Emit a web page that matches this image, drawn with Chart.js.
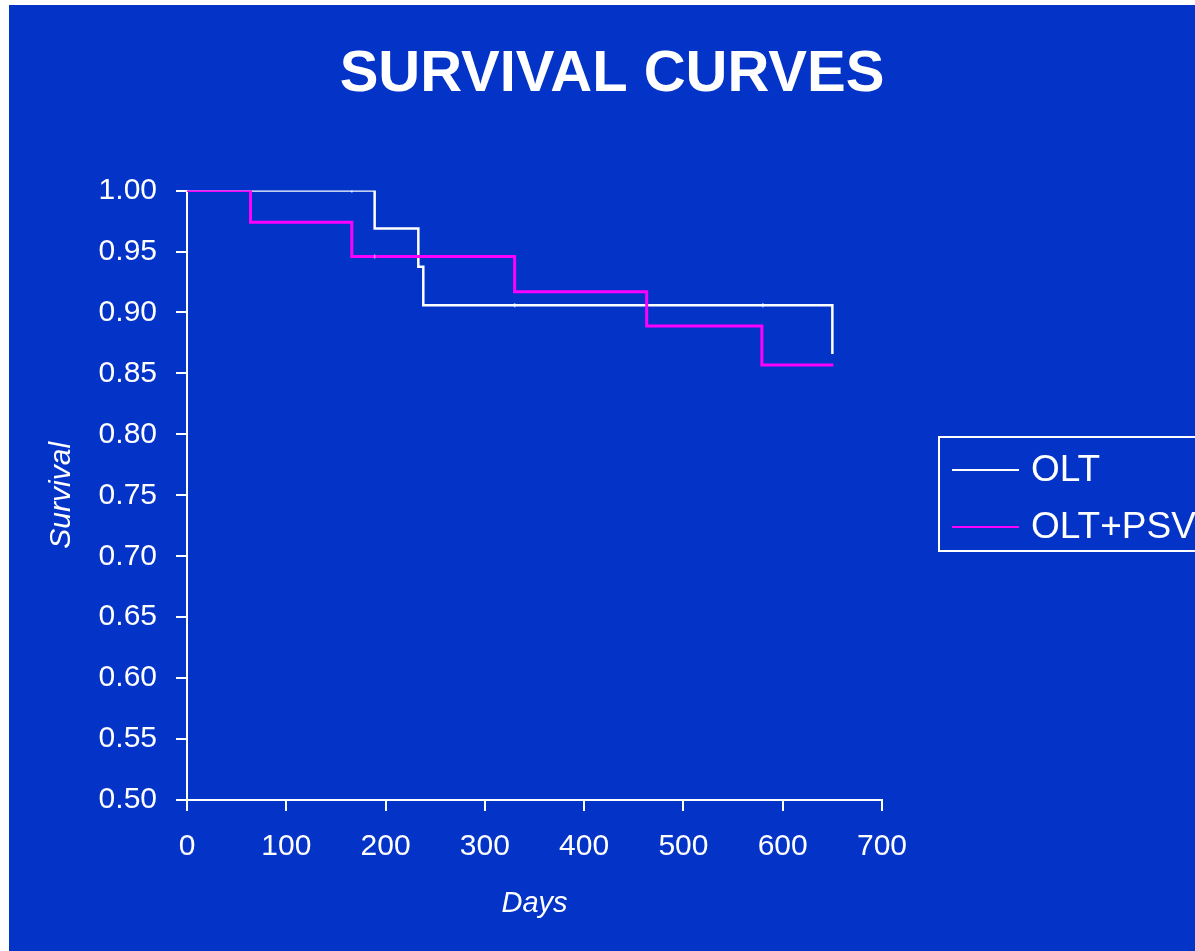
<!DOCTYPE html>
<html>
<head>
<meta charset="utf-8">
<script src="https://cdn.jsdelivr.net/npm/chart.js@4/dist/chart.umd.min.js"></script>
<style>
  html, body { margin: 0; padding: 0; background: #ffffff; width: 1195px; height: 951px; overflow: hidden; }
  #wrap { position: absolute; left: 9px; top: 5px; width: 1186px; height: 946px; background: #0433C7; }
  canvas { display: block; }
</style>
</head>
<body>
<div id="wrap"><canvas id="c" width="1186" height="946"></canvas></div>
<script>
// ---- data ----
const chartTitle = 'SURVIVAL CURVES';
const xAxisTitle = 'Days';
const yAxisTitle = 'Survival';
const seriesNames = ['OLT', 'OLT+PSV'];

// Kaplan-Meier steps: value changes at each day listed
const oltDays = [0, 189, 233, 238, 650];
const oltSurvival = [1.00, 0.969, 0.9375, 0.906, 0.866];
const psvDays = [0, 64, 166, 330, 463, 579, 651];
const psvSurvival = [1.00, 0.974, 0.946, 0.917, 0.889, 0.857, 0.857];

// censored observations
const oltCensorDays = [166, 330, 580];
const oltCensorSurvival = [1.00, 0.906, 0.906];
const psvCensorDays = [189];
const psvCensorSurvival = [0.946];

const xTicks = [0, 100, 200, 300, 400, 500, 600, 700];
const yTicks = [0.50, 0.55, 0.60, 0.65, 0.70, 0.75, 0.80, 0.85, 0.90, 0.95, 1.00];

const WHITE = '#ffffff';
const MAGENTA = '#ff00ff';
const FONT = "'Liberation Sans', Arial, sans-serif";

const toPts = (xs, ys) => xs.map((x, i) => ({ x: x, y: ys[i] }));

// centre the title over the whole slide, not only over the plot column
const titleSpanPlugin = {
  id: 'titleSpan',
  afterLayout(chart) {
    const t = chart.titleBlock;
    if (t) { t.left = 20; t.right = chart.width; t.width = chart.width - 20; }
  }
};

const legendPlugin = {
  id: 'boxLegend',
  afterDraw(chart) {
    const ctx = chart.ctx;
    const items = chart.data.datasets.filter(d => !d.isCensor);
    ctx.save();
    ctx.strokeStyle = WHITE;
    ctx.lineWidth = 2;
    ctx.strokeRect(930, 432, 320, 114);
    ctx.font = '37px ' + FONT;
    ctx.textBaseline = 'middle';
    ctx.textAlign = 'left';
    items.forEach((d, i) => {
      const y = 465 + i * 57;
      ctx.strokeStyle = d.borderColor;
      ctx.lineWidth = 2;
      ctx.beginPath();
      ctx.moveTo(943, y);
      ctx.lineTo(1010, y);
      ctx.stroke();
      ctx.fillStyle = WHITE;
      ctx.fillText(d.label, 1022, y + 1);
    });
    ctx.restore();
  }
};

new Chart(document.getElementById('c'), {
  type: 'scatter',
  data: {
    datasets: [
      {
        label: seriesNames[0],
        data: toPts(oltDays, oltSurvival),
        showLine: true,
        stepped: 'before',
        borderColor: WHITE,
        backgroundColor: WHITE,
        borderWidth: 2.5,
        pointRadius: 0,
        order: 2
      },
      {
        label: seriesNames[1],
        data: toPts(psvDays, psvSurvival),
        showLine: true,
        stepped: 'before',
        borderColor: MAGENTA,
        backgroundColor: MAGENTA,
        borderWidth: 3,
        pointRadius: 0,
        order: 1
      },
      {
        label: seriesNames[0] + ' censored',
        isCensor: true,
        data: toPts(oltCensorDays, oltCensorSurvival),
        showLine: false,
        pointStyle: 'line',
        rotation: 90,
        pointRadius: 2,
        borderWidth: 1.5,
        borderColor: 'rgba(220,225,245,0.9)',
        order: 3
      },
      {
        label: seriesNames[1] + ' censored',
        isCensor: true,
        data: toPts(psvCensorDays, psvCensorSurvival),
        showLine: false,
        pointStyle: 'line',
        rotation: 90,
        pointRadius: 2,
        borderWidth: 1.5,
        borderColor: 'rgba(255,150,255,0.9)',
        order: 0
      }
    ]
  },
  options: {
    responsive: false,
    animation: false,
    layout: { padding: { top: 0, left: 0, right: 313, bottom: 0 } },
    plugins: {
      legend: { display: false },
      tooltip: { enabled: false },
      title: {
        display: true,
        text: chartTitle,
        color: WHITE,
        font: { family: FONT, size: 58, weight: 'bold' },
        padding: { top: 35, bottom: 81 }
      }
    },
    scales: {
      x: {
        type: 'linear',
        min: 0,
        max: 700,
        afterFit(s) { s.height = 151; },
        afterBuildTicks(s) { s.ticks = xTicks.map(v => ({ value: v })); },
        ticks: {
          color: WHITE,
          font: { family: FONT, size: 30 },
          padding: 18,
          maxRotation: 0,
          callback: v => String(v)
        },
        grid: { drawOnChartArea: false, drawTicks: true, tickLength: 11, color: WHITE, lineWidth: 2 },
        border: { display: true, color: WHITE, width: 2 },
        title: {
          display: true,
          text: xAxisTitle,
          color: WHITE,
          font: { family: FONT, size: 29, style: 'italic' },
          padding: { top: 0, bottom: 30 }
        }
      },
      y: {
        type: 'linear',
        min: 0.5,
        max: 1.0,
        afterFit(s) { s.width = 178; },
        afterBuildTicks(s) { s.ticks = yTicks.map(v => ({ value: v })); },
        ticks: {
          color: WHITE,
          font: { family: FONT, size: 30 },
          padding: 19,
          callback: v => Number(v).toFixed(2)
        },
        grid: { drawOnChartArea: false, drawTicks: true, tickLength: 11, color: WHITE, lineWidth: 2 },
        border: { display: true, color: WHITE, width: 2 },
        title: {
          display: true,
          text: yAxisTitle,
          color: WHITE,
          font: { family: FONT, size: 30, style: 'italic' },
          padding: { top: 35, bottom: 0 }
        }
      }
    }
  },
  plugins: [titleSpanPlugin, legendPlugin]
});
</script>
</body>
</html>
